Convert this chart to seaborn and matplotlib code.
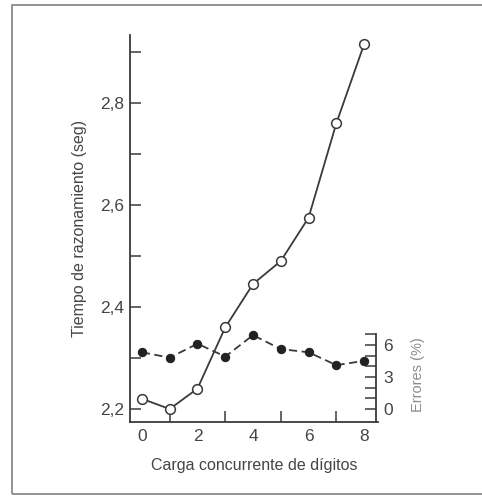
import matplotlib
matplotlib.use("Agg")
import matplotlib.pyplot as plt
import seaborn as sns
import pandas as pd
from matplotlib.patches import Rectangle
from matplotlib.ticker import FuncFormatter, MultipleLocator

carga = [0, 1, 2, 3, 4, 5, 6, 7, 8]
tiempo = [2.22, 2.20, 2.24, 2.36, 2.445, 2.49, 2.575, 2.76, 2.915]
errores = [5.3, 4.8, 6.1, 4.9, 6.9, 5.6, 5.3, 4.1, 4.5]

df = pd.DataFrame({"carga": carga, "tiempo": tiempo, "errores": errores})

sns.set_style("white")
plt.rcParams["font.family"] = ["Liberation Sans", "DejaVu Sans"]

dark = "#3a3a3a"
txt = "#454545"

fig = plt.figure(figsize=(4.82, 4.96), dpi=100)
fig.patch.set_facecolor("white")
fig.add_artist(Rectangle((12 / 482, 2 / 496), 1.0, 489 / 496, transform=fig.transFigure,
                         fill=False, edgecolor="#8a8a8a", linewidth=1.3))

ax = fig.add_axes([130 / 482, 1 - 422 / 496, 248 / 482, 387 / 496])
ax.set_facecolor("none")
sns.lineplot(data=df, x="carga", y="tiempo", ax=ax, color=dark, linewidth=1.3,
             marker="o", markersize=7, markerfacecolor="white",
             markeredgecolor=dark, markeredgewidth=1.1)

ax.set_xlim(-0.43, 8.5)
ax.set_ylim(2.1745, 2.933)
ax.set_yticks([2.2, 2.4, 2.6, 2.8])
ax.yaxis.set_minor_locator(MultipleLocator(0.1))
ax.xaxis.set_minor_locator(MultipleLocator(1))
ax.set_xticks([0, 2, 4, 6, 8])
fmt = FuncFormatter(lambda v, p: f"{v:.1f}".replace(".", ","))
ax.yaxis.set_major_formatter(fmt)
ax.tick_params(axis="both", which="both", direction="in", color=dark, width=1.1,
               labelcolor=txt, labelsize=12.5)
ax.tick_params(axis="y", which="both", length=8, pad=4)
ax.tick_params(axis="x", which="both", length=8, pad=5)
ax.tick_params(axis="y", which="minor", left=True)
ax.tick_params(axis="x", which="minor", bottom=True)
for s in ["top", "right"]:
    ax.spines[s].set_visible(False)
for s in ["left", "bottom"]:
    ax.spines[s].set_color(dark)
    ax.spines[s].set_linewidth(1.3)
ax.set_xlabel("Carga concurrente de dígitos", fontsize=11.5, color=txt, labelpad=10)
ax.set_ylabel("Tiempo de razonamiento (seg)", fontsize=11.5, color=txt, labelpad=10)

ax2 = ax.twinx()
sns.lineplot(data=df, x="carga", y="errores", ax=ax2, color=dark, linewidth=1.3,
             linestyle=(0, (4.5, 2.5)), marker="o", markersize=6,
             markerfacecolor="#222222", markeredgecolor="#222222")
ylo = -13 / 10.7
ax2.set_ylim(ylo, (409 - 35) / 10.7)
ax2.set_yticks([0, 3, 6])
ax2.set_yticks([1, 2, 4, 5, 7], minor=True)
ax2.spines["right"].set_bounds(ylo, 7)
ax2.spines["right"].set_position(("data", 8.43))
ax2.spines["right"].set_color(dark)
ax2.spines["right"].set_linewidth(1.3)
for s in ["top", "left", "bottom"]:
    ax2.spines[s].set_visible(False)
ax2.tick_params(axis="y", which="both", direction="in", length=8, width=1.1,
                color=dark, labelcolor=txt, labelsize=12.5, pad=5)
ax2.set_ylabel("")
ax2.set_xlabel("")
fig.text(418 / 482, 1 - 375 / 496, "Errores (%)", rotation=90, ha="center", va="center",
         fontsize=10.5, color="#8c8c8c")

fig.savefig("out.png", dpi=100)
